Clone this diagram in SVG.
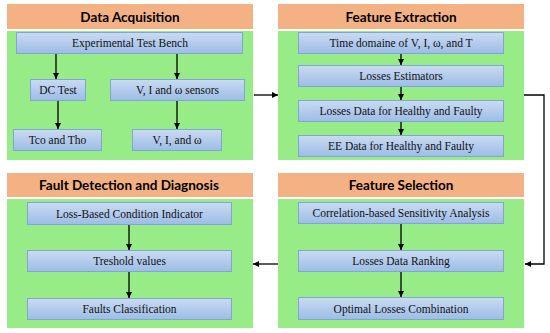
<svg xmlns="http://www.w3.org/2000/svg" width="550" height="333" viewBox="0 0 550 333">
<defs>
<linearGradient id="bg" x1="0" y1="0" x2="0" y2="1">
<stop offset="0" stop-color="#CADBF2"/>
<stop offset="1" stop-color="#9DBCE6"/>
</linearGradient>
<marker id="ah" viewBox="0 0 10 10" refX="10" refY="5" markerWidth="6" markerHeight="6" markerUnits="userSpaceOnUse" orient="auto">
<path d="M0,0 L10,5 L0,10 Z" fill="#000"/>
</marker>
</defs>
<style>
.hdr{fill:#F4B183}
.pan{fill:#98EC88}
.box{fill:url(#bg);stroke:#7FA6D6;stroke-width:1}
.ht{font-family:Lato,"Open Sans","Liberation Sans",sans-serif;font-weight:bold;font-size:13.5px;fill:#000;text-anchor:middle}
.bt{font-family:"Liberation Serif","Times New Roman",serif;font-size:11.5px;fill:#111;text-anchor:middle}
.c{fill:none;stroke:#000;stroke-width:1.3}
</style>
<rect width="550" height="333" fill="#fff"/>

<g id="panel-acquisition">
<rect class="hdr" x="7" y="4" width="246" height="25"/>
<rect class="pan" x="7" y="31" width="246" height="129"/>
<text class="ht" x="130" y="21.5">Data Acquisition</text>
</g>
<g id="node-etb"><rect class="box" x="16.5" y="32.5" width="226" height="21"/><text class="bt" x="130" y="47">Experimental Test Bench</text></g>
<g id="node-dctest"><rect class="box" x="30.5" y="79.5" width="55" height="21"/><text class="bt" x="58" y="94">DC Test</text></g>
<g id="node-sensors"><rect class="box" x="110.5" y="79.5" width="134" height="21"/><text class="bt" x="177.5" y="94">V, I and ω sensors</text></g>
<g id="node-tco"><rect class="box" x="13.5" y="129.5" width="88" height="21"/><text class="bt" x="57.5" y="144">Tco and Tho</text></g>
<g id="node-vi"><rect class="box" x="132.5" y="129.5" width="89" height="21"/><text class="bt" x="177" y="144">V, I, and ω</text></g>

<g id="panel-extraction">
<rect class="hdr" x="278" y="4" width="246" height="25"/>
<rect class="pan" x="278" y="31" width="246" height="129"/>
<text class="ht" x="401" y="21.5">Feature Extraction</text>
</g>
<g id="node-time"><rect class="box" x="298.5" y="32.5" width="205" height="21"/><text class="bt" x="401" y="47">Time domaine of V, I, ω, and T</text></g>
<g id="node-estim"><rect class="box" x="298.5" y="65.5" width="205" height="21"/><text class="bt" x="401" y="80">Losses Estimators</text></g>
<g id="node-lossdata"><rect class="box" x="298.5" y="100.5" width="205" height="21"/><text class="bt" x="401" y="115">Losses Data for Healthy and Faulty</text></g>
<g id="node-eedata"><rect class="box" x="298.5" y="135.5" width="205" height="21"/><text class="bt" x="401" y="150">EE Data for Healthy and Faulty</text></g>

<g id="panel-selection">
<rect class="hdr" x="278" y="173" width="246" height="24"/>
<rect class="pan" x="278" y="199" width="246" height="129"/>
<text class="ht" x="401" y="190">Feature Selection</text>
</g>
<g id="node-corr"><rect class="box" x="298.5" y="202.5" width="205" height="21"/><text class="bt" x="401" y="217">Correlation-based Sensitivity Analysis</text></g>
<g id="node-rank"><rect class="box" x="298.5" y="250.5" width="205" height="21"/><text class="bt" x="401" y="265">Losses Data Ranking</text></g>
<g id="node-optimal"><rect class="box" x="298.5" y="297.5" width="205" height="22"/><text class="bt" x="401" y="312.5">Optimal Losses Combination</text></g>

<g id="panel-detection">
<rect class="hdr" x="7" y="173" width="246" height="24"/>
<rect class="pan" x="7" y="199" width="246" height="129"/>
<text class="ht" x="129" y="190">Fault Detection and Diagnosis</text>
</g>
<g id="node-lbci"><rect class="box" x="27.5" y="202.5" width="204" height="22"/><text class="bt" x="129.5" y="217.5">Loss-Based Condition Indicator</text></g>
<g id="node-thresh"><rect class="box" x="27.5" y="250.5" width="204" height="21"/><text class="bt" x="129.5" y="265">Treshold values</text></g>
<g id="node-faults"><rect class="box" x="27.5" y="298.5" width="204" height="21"/><text class="bt" x="129.5" y="313">Faults Classification</text></g>

<g id="connectors">
<line class="c" x1="56" y1="54" x2="56" y2="79" marker-end="url(#ah)"/>
<line class="c" x1="177" y1="54" x2="177" y2="79" marker-end="url(#ah)"/>
<line class="c" x1="58" y1="101" x2="58" y2="129" marker-end="url(#ah)"/>
<line class="c" x1="177" y1="101" x2="177" y2="129" marker-end="url(#ah)"/>
<line class="c" x1="254" y1="95" x2="278" y2="95" marker-end="url(#ah)"/>
<line class="c" x1="401" y1="54" x2="401" y2="65" marker-end="url(#ah)"/>
<line class="c" x1="401" y1="87" x2="401" y2="100" marker-end="url(#ah)"/>
<line class="c" x1="401" y1="122" x2="401" y2="135" marker-end="url(#ah)"/>
<polyline class="c" points="524,95 544,95 544,264 525,264" marker-end="url(#ah)"/>
<line class="c" x1="401" y1="224" x2="401" y2="250" marker-end="url(#ah)"/>
<line class="c" x1="401" y1="272" x2="401" y2="297" marker-end="url(#ah)"/>
<line class="c" x1="278" y1="264" x2="253" y2="264" marker-end="url(#ah)"/>
<line class="c" x1="129" y1="225" x2="129" y2="250" marker-end="url(#ah)"/>
<line class="c" x1="129" y1="272" x2="129" y2="298" marker-end="url(#ah)"/>
</g>
</svg>
